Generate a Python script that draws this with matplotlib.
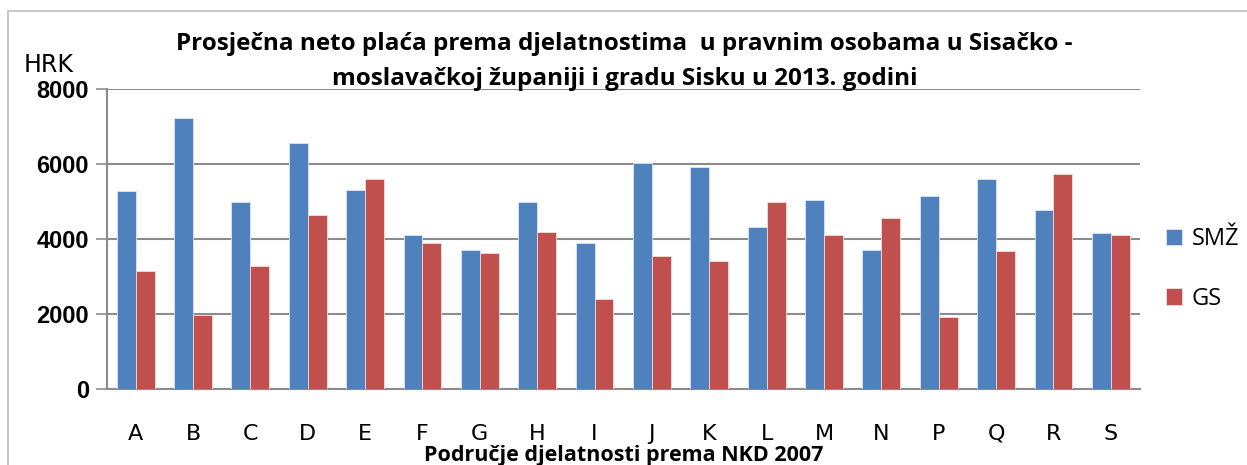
import matplotlib
matplotlib.use('Agg')
import matplotlib.pyplot as plt
import numpy as np
from matplotlib.patches import Rectangle

# podaci procitani s grafa
djelatnosti = ['A', 'B', 'C', 'D', 'E', 'F', 'G', 'H', 'I', 'J',
               'K', 'L', 'M', 'N', 'P', 'Q', 'R', 'S']
smz = [5290, 7220, 4990, 6570, 5300, 4110, 3710, 4990, 3890, 6030,
       5910, 4330, 5030, 3710, 5160, 5600, 4770, 4150]
gs = [3140, 1980, 3280, 4640, 5600, 3890, 3620, 4200, 2390, 3540,
      3410, 4990, 4110, 4550, 1910, 3670, 5730, 4110]
serije = ['SMŽ', 'GS']
yticks = [0, 2000, 4000, 6000, 8000]

blue = '#4F81BD'
red = '#C0504D'
grid_col = '#8C8C8C'

fig = plt.figure(figsize=(12.47, 4.65), dpi=100)
ax = fig.add_axes([0.0858, 0.1634, 0.828, 0.645])

# okvir oko grafikona
fig.patches.append(Rectangle((8 / 1247, -0.05), 1.1, 1.05 - 11 / 465,
                             transform=fig.transFigure, fill=False,
                             edgecolor='#BFBFBF', lw=1.2))

x = np.arange(len(djelatnosti))
w = 0.33
ax.bar(x - w / 2, smz, w, color=blue, edgecolor='#DCE6F2', lw=0.6,
       label=serije[0], zorder=3)
ax.bar(x + w / 2, gs, w, color=red, edgecolor='#F2DCDB', lw=0.6,
       label=serije[1], zorder=3)

ax.set_xlim(-0.5, len(djelatnosti) - 0.5)
ax.set_ylim(0, 8000)
ax.set_yticks(yticks)
ax.set_yticklabels([str(t) for t in yticks], fontsize=17,
                   family='Liberation Sans', weight='bold')
ax.yaxis.grid(True, color=grid_col, lw=1.5, zorder=0)
ax.set_xticks(x)
ax.set_xticklabels(djelatnosti, fontsize=16, family='Liberation Sans Narrow')
ax.tick_params(axis='x', length=0, pad=25)
ax.tick_params(axis='y', length=8, width=1.2, color=grid_col, pad=5)

for s in ['top', 'right']:
    ax.spines[s].set_visible(False)
for s in ['left', 'bottom']:
    ax.spines[s].set_color(grid_col)
    ax.spines[s].set_linewidth(1.5)

fig.text(0.501, 0.905,
         'Prosječna neto plaća prema djelatnostima  u pravnim osobama u Sisačko -',
         ha='center', va='center', fontsize=17.5, weight='bold',
         family='Open Sans')
fig.text(0.501, 0.830, 'moslavačkoj županiji i gradu Sisku u 2013. godini',
         ha='center', va='center', fontsize=17.5, weight='bold',
         family='Open Sans')
fig.text(0.039, 0.860, 'HRK', ha='center', va='center', fontsize=17,
         family='Liberation Sans Narrow')
fig.text(0.50, 0.021, 'Područje djelatnosti prema NKD 2007', ha='center',
         va='center', fontsize=15.5, weight='bold', family='Open Sans')

ax.legend(loc='center left', bbox_to_anchor=(1.005, 0.40), frameon=False,
          handlelength=0.7, handleheight=0.7, labelspacing=1.5,
          handletextpad=0.4, prop={'family': 'Open Sans', 'size': 17})

fig.savefig('out.png', dpi=100)
